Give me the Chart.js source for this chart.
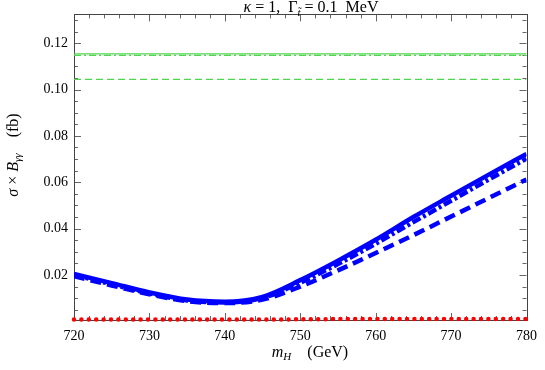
<!DOCTYPE html>
<html>
<head>
<meta charset="utf-8">
<script src="https://cdn.jsdelivr.net/npm/chart.js@4.4.1/dist/chart.umd.min.js"></script>
<style>
  html, body { margin: 0; padding: 0; background: #fff; }
  #wrap { width: 545px; height: 370px; }
</style>
</head>
<body>
<div id="wrap"><canvas id="plot"></canvas></div>
<script>
// masses (GeV)
const masses = [720, 725, 730, 735, 740, 745, 750, 755, 760, 765, 770, 775, 780];

// sigma x B (fb)
const blueSolid   = [0.0205, 0.0165, 0.0125, 0.0094, 0.0085, 0.0106, 0.0178, 0.0262, 0.0352, 0.0450, 0.0542, 0.0633, 0.0722];
const blueDotDash = [0.0200, 0.0160, 0.0121, 0.0090, 0.0082, 0.0101, 0.0167, 0.0247, 0.0335, 0.0428, 0.0520, 0.0612, 0.0702];
const blueDashed  = [0.0195, 0.0155, 0.0117, 0.0087, 0.0079, 0.0094, 0.0150, 0.0220, 0.0295, 0.0372, 0.0452, 0.0532, 0.0612];
const redDotted   = [0.0008, 0.0008, 0.0008, 0.0008, 0.0008, 0.0008, 0.0009, 0.0010, 0.0010, 0.0010, 0.0010, 0.0010, 0.0010];

// horizontal green limits
const limitX = [720, 780];
const greenSolid = 0.1154;
const greenDotDash = 0.1147;
const greenDashed = 0.1044;

const xTicks = [720, 730, 740, 750, 760, 770, 780];
const yTicks = [0.02, 0.04, 0.06, 0.08, 0.10, 0.12];

const SERIF = "'Liberation Serif', 'DejaVu Serif', serif";

function pts(xs, ys) {
  return xs.map((x, i) => ({ x: x, y: ys[i] }));
}

function flat(v) {
  return limitX.map(x => ({ x: x, y: v }));
}

// draws a run of [text, font, dy] pieces starting at x
function drawRich(ctx, parts, x, y, align) {
  let total = 0;
  parts.forEach(p => { ctx.font = p[1]; total += ctx.measureText(p[0]).width; });
  let cx = align === "center" ? x - total / 2 : x;
  parts.forEach(p => {
    ctx.font = p[1];
    ctx.fillText(p[0], cx, y + (p[2] || 0));
    cx += ctx.measureText(p[0]).width;
  });
}

const framePlugin = {
  id: "frame",
  beforeDatasetsDraw(chart) {
    const ctx = chart.ctx;
    const a = chart.chartArea;
    const xs = chart.scales.x, ys = chart.scales.y;
    ctx.save();
    ctx.strokeStyle = "#666";
    ctx.lineWidth = 1;
    ctx.beginPath();
    // minor + major ticks on y
    for (let v = 0.005; v < ys.max; v += 0.005) {
      const major = Math.abs(v / 0.02 - Math.round(v / 0.02)) < 1e-6;
      const len = major ? 7 : 4;
      const py = Math.round(ys.getPixelForValue(v)) + 0.5;
      ctx.moveTo(a.left, py); ctx.lineTo(a.left + len, py);
      ctx.moveTo(a.right, py); ctx.lineTo(a.right - len, py);
    }
    for (let v = 722; v < 780; v += 2) {
      const major = v % 10 === 0;
      const len = major ? 7 : 4;
      const px = Math.round(xs.getPixelForValue(v)) + 0.5;
      ctx.moveTo(px, a.bottom); ctx.lineTo(px, a.bottom - len);
      ctx.moveTo(px, a.top); ctx.lineTo(px, a.top + len);
    }
    ctx.stroke();
    ctx.strokeStyle = "#444";
    ctx.strokeRect(Math.round(a.left) + 0.5, Math.round(a.top) + 0.5,
                   Math.round(a.right - a.left), Math.round(a.bottom - a.top));
    ctx.restore();
  },
  afterDraw(chart) {
    const ctx = chart.ctx;
    ctx.save();
    ctx.fillStyle = "#000";
    ctx.textBaseline = "alphabetic";
    // title
    drawRich(ctx, [
      ["\u03BA", "italic 16px " + SERIF],
      [" = 1,  ", "16px " + SERIF],
      ["\u0393", "16px " + SERIF],
      ["t\u0303", "italic 11px " + SERIF, 4],
      [" = 0.1  MeV", "16px " + SERIF]
    ], 311, 12, "center");

    // x title
    drawRich(ctx, [
      ["m", "italic 16px " + SERIF],
      ["H", "italic 11px " + SERIF, 3],
      ["    (GeV)", "16px " + SERIF]
    ], 310, 357, "center");

    // y title
    ctx.translate(18, 155);
    ctx.rotate(-Math.PI / 2);
    drawRich(ctx, [
      ["\u03C3", "italic 16px " + SERIF],
      [" \u00D7 ", "16px " + SERIF],
      ["B", "italic 16px " + SERIF],
      ["\u03B3\u03B3", "italic 11px " + SERIF, 3],
      ["    (fb)", "16px " + SERIF]
    ], 0, 0, "center");
    ctx.restore();
  }
};

const blue = "#0000ff";
const green = "#4fd64f";

new Chart(document.getElementById("plot").getContext("2d"), {
  type: "line",
  data: {
    datasets: [
      { data: flat(greenSolid), borderColor: green, borderWidth: 1.2 },
      { data: flat(greenDotDash), borderColor: green, borderWidth: 1.2, borderDash: [7, 3, 2, 3] },
      { data: flat(greenDashed), borderColor: green, borderWidth: 1.2, borderDash: [7, 4] },
      { data: pts(masses, redDotted), borderColor: "#ff0000", borderWidth: 4.5,
        borderDash: [0, 7.4], borderCapStyle: "round", clip: false },
      { data: pts(masses, blueDashed), borderColor: blue, borderWidth: 4.5, borderDash: [11, 6],
        cubicInterpolationMode: "monotone" },
      { data: pts(masses, blueDotDash), borderColor: blue, borderWidth: 4.5, borderDash: [9, 3, 3, 3],
        cubicInterpolationMode: "monotone" },
      { data: pts(masses, blueSolid), borderColor: blue, borderWidth: 4.5,
        cubicInterpolationMode: "monotone" }
    ]
  },
  options: {
    responsive: true,
    maintainAspectRatio: false,
    animation: false,
    elements: { point: { radius: 0 } },
    layout: { padding: { top: 14, right: 13, left: 0, bottom: 0 } },
    plugins: { legend: { display: false }, tooltip: { enabled: false }, title: { display: false } },
    scales: {
      x: {
        type: "linear",
        min: 720,
        max: 780,
        grid: { display: false, drawTicks: false },
        border: { display: false },
        afterBuildTicks: s => { s.ticks = xTicks.map(v => ({ value: v })); },
        afterFit: s => { s.height = 50; },
        ticks: {
          color: "#000",
          padding: 8,
          maxRotation: 0,
          font: { family: SERIF, size: 14 },
          callback: v => String(v)
        }
      },
      y: {
        min: 0.0006,
        max: 0.1324,
        grid: { display: false, drawTicks: false },
        border: { display: false },
        afterBuildTicks: s => { s.ticks = yTicks.map(v => ({ value: v })); },
        afterFit: s => { s.width = 74; },
        ticks: {
          color: "#000",
          padding: 6,
          font: { family: SERIF, size: 14 },
          callback: v => v.toFixed(2)
        }
      }
    }
  },
  plugins: [framePlugin]
});
</script>
</body>
</html>
